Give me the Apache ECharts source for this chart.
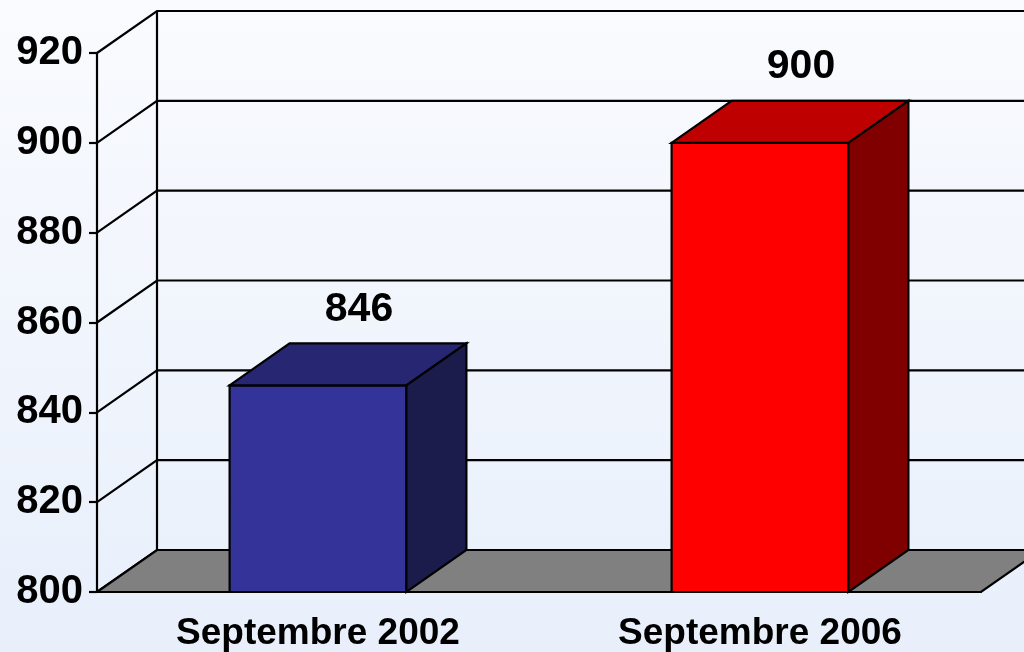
<!DOCTYPE html>
<html><head><meta charset="utf-8">
<script src="https://cdn.jsdelivr.net/npm/echarts@6/dist/echarts.min.js"></script>
<style>html,body{margin:0;padding:0;overflow:hidden;}#c{width:1024px;height:652px;}</style>
</head><body><div id="c"></div>
<script>
const categories = ['Septembre 2002', 'Septembre 2006'];
const values = [846, 900];
const yTicks = [800, 820, 840, 860, 880, 900, 920];
const barColors = [
  { front: '#333399', top: '#262673', side: '#1c1c4c' },
  { front: '#ff0000', top: '#bf0000', side: '#800000' }
];
const DX = 60, DY = -42;
const FONT = '"Liberation Sans", Arial, sans-serif';
const LINE = { stroke: '#000', lineWidth: 2.2 };

function wallRender(params, api) {
  const cs = params.coordSys;
  const v = api.value(1);
  const y = api.coord([0, v])[1];
  const x0 = cs.x;
  const children = [{
    type: 'polyline',
    shape: { points: [[x0, y], [x0 + DX, y + DY], [api.getWidth() + 5, y + DY]] },
    style: Object.assign({ fill: null }, LINE)
  }];
  if (params.dataIndex === 0) {
    children.push({
      type: 'line',
      shape: { x1: x0 + DX, y1: cs.y + DY, x2: x0 + DX, y2: cs.y + cs.height + DY },
      style: LINE
    });
  }
  return { type: 'group', children: children };
}

function floorRender(params, api) {
  const cs = params.coordSys;
  const yb = api.coord([0, api.value(1)])[1];
  const x0 = cs.x, x1 = cs.x + cs.width;
  return {
    type: 'polygon',
    shape: { points: [[x0, yb], [x1, yb], [x1 + DX, yb + DY], [x0 + DX, yb + DY]] },
    style: Object.assign({ fill: '#808080', lineJoin: 'miter' }, LINE)
  };
}

function barRender(params, api) {
  const idx = api.value(0), v = api.value(1);
  const top = api.coord([idx, v]);
  const base = api.coord([idx, 800]);
  const bw = api.size([1, 0])[0] * 0.4;
  const l = top[0] - bw / 2, r = top[0] + bw / 2, t = top[1], b = base[1];
  const c = barColors[idx];
  return {
    type: 'group',
    children: [
      { type: 'polygon', shape: { points: [[l, t], [r, t], [r, b], [l, b]] },
        style: Object.assign({ fill: c.front }, LINE) },
      { type: 'polygon', shape: { points: [[l, t], [r, t], [r + DX, t + DY], [l + DX, t + DY]] },
        style: Object.assign({ fill: c.top }, LINE) },
      { type: 'polygon', shape: { points: [[r, t], [r + DX, t + DY], [r + DX, b + DY], [r, b]] },
        style: Object.assign({ fill: c.side }, LINE) },
      { type: 'text',
        style: { text: String(v), x: top[0] + 41, y: t + DY - 34, align: 'center', verticalAlign: 'middle',
                 fill: '#000', font: 'bold 41px ' + FONT } }
    ]
  };
}

const chart = echarts.init(document.getElementById('c'));
chart.setOption({
  animation: false,
  backgroundColor: {
    type: 'linear', x: 0, y: 0, x2: 0, y2: 1,
    colorStops: [{ offset: 0, color: '#f9fbfe' }, { offset: 1, color: '#e8effb' }]
  },
  grid: { left: 97, right: 43, top: 53, bottom: 60 },
  xAxis: {
    type: 'category', data: categories, z: 5,
    axisLine: { lineStyle: { color: '#000', width: 2.2 } },
    axisTick: { length: 8, lineStyle: { color: '#000', width: 2.2 } },
    axisLabel: { color: '#000', fontFamily: FONT, fontWeight: 'bold', fontSize: 37, margin: 23 }
  },
  yAxis: {
    type: 'value', min: 800, max: 920, interval: 20,
    axisLine: { show: true, lineStyle: { color: '#000', width: 2.2 } },
    axisTick: { show: true, length: 8, lineStyle: { color: '#000', width: 2.2 } },
    axisLabel: { color: '#000', fontFamily: FONT, fontWeight: 'bold', fontSize: 40, margin: 14 },
    splitLine: { show: false }
  },
  series: [
    { type: 'custom', data: yTicks.slice().reverse().map(v => [0, v]), renderItem: wallRender, z: 1, silent: true },
    { type: 'custom', data: [[0, 800]], renderItem: floorRender, z: 2, silent: true },
    { type: 'custom', data: values.map((v, i) => [i, v]), renderItem: barRender, z: 3, silent: true }
  ]
});
</script>
</body></html>
